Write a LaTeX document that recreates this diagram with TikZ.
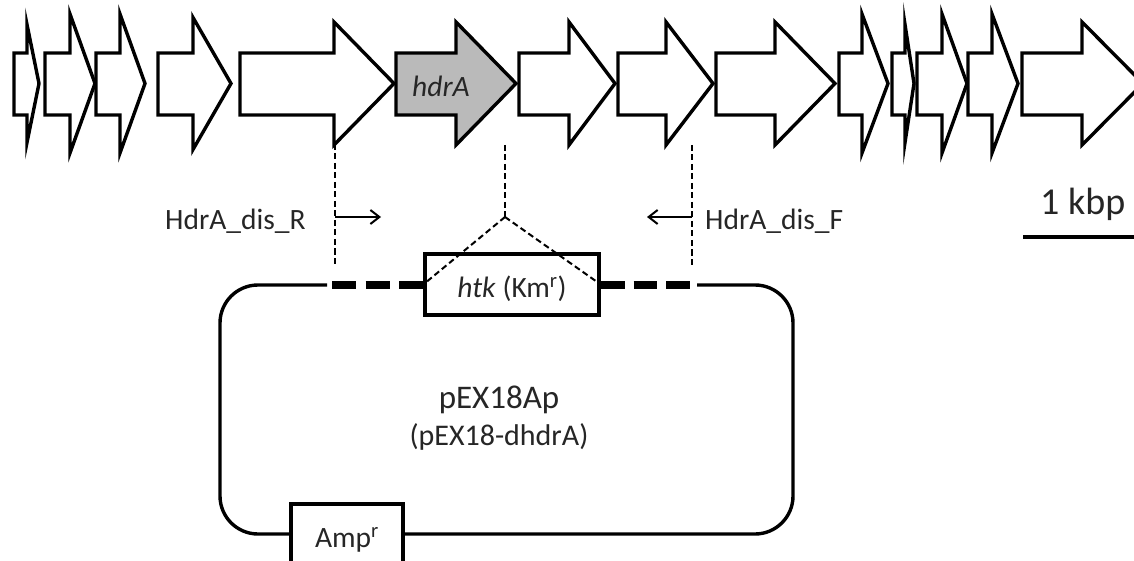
\documentclass[tikz,border=0pt]{standalone}
\usepackage{fontspec}
\setmainfont{Carlito}
\usetikzlibrary{arrows.meta}
\colorlet{txt}{black!85}
\tikzset{
  gene/.style={draw=black, line width=3.4pt, fill=white, line join=miter, miter limit=20},
  cutline/.style={line width=2pt, dash pattern=on 6pt off 3.5pt},
  primer/.style={line width=2pt, -{Straight Barb[length=9pt,width=14pt]}},
  plasmid/.style={line width=3.4pt},
  homarm/.style={line width=7.5pt, dash pattern=on 24pt off 9.5pt},
  cassette/.style={draw, line width=3.4pt, fill=white, inner sep=0pt},
  lbl/.style={inner sep=0pt, anchor=base west, text=txt, font=\fontsize{29.5}{34}\selectfont},
  clbl/.style={inner sep=0pt, anchor=base, text=txt, font=\fontsize{29.5}{34}\selectfont},
}
\newcommand{\genearrow}[5][]{%
  \draw[gene,#1] (#2,53) -- (#3,53) -- (#3,{83.5-#5}) -- (#4,83.5) -- (#3,{83.5+#5}) -- (#3,115) -- (#2,115) -- cycle;}
\begin{document}
\begin{tikzpicture}[x=1pt,y=-1pt]
\clip (0,0) rectangle (1134,561);
\fill[white] (0,0) rectangle (1134,561);
% gene arrows
\genearrow{14}{27}{39}{59}
\genearrow{45}{70}{95}{69.5}
\genearrow{96}{120}{145}{69.5}
\genearrow{158}{193}{231}{66}
\genearrow{240}{334}{394}{61.5}
\genearrow[fill=black!27]{396}{456}{516}{61.5}
\genearrow{519}{569}{615}{61.5}
\genearrow{618}{666}{713}{61.5}
\genearrow{716}{775}{835}{61.5}
\genearrow{839}{862}{888}{69.5}
\genearrow{892}{905}{914}{59}
\genearrow{917}{942}{967}{69.5}
\genearrow{968}{992}{1018}{69.5}
\genearrow{1022}{1082}{1143}{61.5}
\node[lbl, font=\fontsize{29.5}{34}\selectfont\itshape] (hdrA) at (412,97) {hdrA};
% cut positions
\coordinate (cutLtop) at (335,144);
\coordinate (cutLbot) at (335,266);
\coordinate (cutMtop) at (505,145);
\coordinate (apex) at (505,217);
\coordinate (cutRtop) at (692,145);
\coordinate (cutRbot) at (692,266);
\draw[cutline] (cutLtop) -- (cutLbot);
\draw[cutline] (cutMtop) -- (apex);
\draw[cutline] (cutRtop) -- (cutRbot);
% primers
\coordinate (pRs) at (335,217);
\coordinate (pRe) at (381,217);
\coordinate (pFs) at (692,217);
\coordinate (pFe) at (647,217);
\draw[primer] (pRs) -- (pRe);
\draw[primer] (pFs) -- (pFe);
\node[lbl] (disR) at (165,230) {HdrA\_dis\_R};
\node[lbl] (disF) at (705,230) {HdrA\_dis\_F};
% scale bar
\node[lbl, font=\fontsize{38}{44}\selectfont] (kbp) at (1040,215) {1 kbp};
\coordinate (sb1) at (1023,237);
\coordinate (sb2) at (1140,237);
\draw[line width=4pt] (sb1) -- (sb2);
% plasmid
\coordinate (pl) at (327,285);
\coordinate (pr) at (697,285);
\draw[plasmid, rounded corners=38pt] (pl) -- (220,285) -- (220,534) -- (793,534) -- (793,285) -- (pr);
\coordinate (hl1) at (332,285);
\coordinate (hl2) at (423,285);
\coordinate (hr1) at (601,285);
\coordinate (hr2) at (690,285);
\draw[homarm] (hl1) -- (hl2);
\draw[homarm, dash pattern=on 23.7pt off 9pt] (hr1) -- (hr2);
\node[cassette, minimum width=174pt, minimum height=61pt] (htk) at (512,284.5) {};
\node[clbl] (htklbl) at (512,297) {\textit{htk} (Km\textsuperscript{r})};
\draw[cutline] (apex) -- (htk.west);
\draw[cutline] (apex) -- (htk.east);
\node[cassette, minimum width=112pt, minimum height=76pt] (amp) at (347,542) {};
\node[clbl] (amplbl) at (347,547) {Amp\textsuperscript{r}};
\node[clbl, font=\fontsize{33}{38}\selectfont] (pex) at (499,408) {pEX18Ap};
\node[clbl, font=\fontsize{30}{34}\selectfont] (pexd) at (499,445) {(pEX18-dhdrA)};
\end{tikzpicture}
\end{document}
